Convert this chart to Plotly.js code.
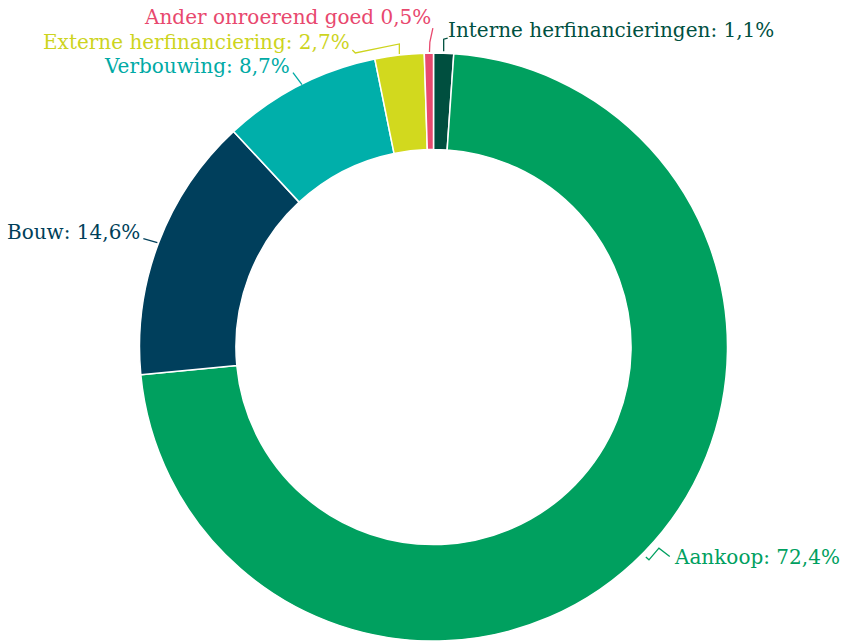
<!DOCTYPE html>
<html>
<head>
<meta charset="utf-8">
<script src="https://cdn.plot.ly/plotly-3.0.1.min.js"></script>
<style>html,body{margin:0;padding:0;background:#fff;}#chart{width:843px;height:641px;}</style>
</head>
<body>
<div id="chart"></div>
<script>
// Data (clockwise from 12 o'clock)
var categories = ["Interne herfinancieringen", "Aankoop", "Bouw", "Verbouwing", "Externe herfinanciering", "Ander onroerend goed"];
var values = [1.1, 72.4, 14.6, 8.7, 2.7, 0.5];
var labelTexts = ["Interne herfinancieringen: 1,1%", "Aankoop: 72,4%", "Bouw: 14,6%", "Verbouwing: 8,7%", "Externe herfinanciering: 2,7%", "Ander onroerend goed 0,5%"];
var sliceColors = ["#004f3f", "#00a05f", "#003f5c", "#00afaa", "#d2d91e", "#e84a6f"];
var textColors = ["#00503f", "#00a060", "#003f5a", "#00aaa5", "#cdd41e", "#e8486e"];

// Layout / style (pixels)
var W = 843, H = 641;
var cx = 433.5, cy = 347.5, R = 294.5;
var holeFrac = 0.672;
// leader-line offsets relative to slice's outer mid point, and text anchor offsets
var leaderOffsets = [
  [[0,-2],[0,-14],[4,-15]],
  [[1.5,4],[4.6,6.7],[14.6,-5],[25.4,3.4]],
  [[-1,0],[-15,-4]],
  [[3,-1],[-6,-13]],
  [[0,-1],[0,-11],[-44,-2],[-47,-5]],
  [[0.6,-1],[1,-11],[4,-25]]
];
var textOffsets = [[2,-23],[27.4,3.7],[-16,-11],[-7,-19.5],[-47,-13],[4.6,-36]];
var textAnchors = ["left","left","right","right","right","right"];

function px(x){return x/W;}
function py(y){return 1 - y/H;}

var total = values.reduce(function(a,b){return a+b;},0);
var shapes = [], annotations = [];
var cum = 0;
for (var i=0;i<values.length;i++){
  var mid = (cum + values[i]/2)/total*2*Math.PI;
  cum += values[i];
  var x0 = cx + R*Math.sin(mid), y0 = cy - R*Math.cos(mid);
  var pts = leaderOffsets[i].map(function(o){return [x0+o[0], y0+o[1]];});
  var path = pts.map(function(p,k){return (k?'L':'M')+px(p[0]).toFixed(5)+','+py(p[1]).toFixed(5);}).join(' ');
  shapes.push({type:'path', xref:'paper', yref:'paper', path:path, line:{color:textColors[i], width:1.3}});
  annotations.push({
    xref:'paper', yref:'paper', showarrow:false,
    x: px(x0+textOffsets[i][0]), y: py(y0+textOffsets[i][1]),
    xanchor: textAnchors[i], yanchor:'middle',
    text: labelTexts[i],
    font:{family:'DejaVu Serif', size:20, color:textColors[i]}
  });
}

var trace = {
  type:'pie',
  labels: categories,
  values: values,
  sort:false,
  direction:'clockwise',
  rotation:0,
  hole: holeFrac,
  textinfo:'none',
  hoverinfo:'label+percent',
  marker:{colors:sliceColors, line:{color:'#ffffff', width:1.5}},
  domain:{x:[(cx-R)/W, (cx+R)/W], y:[Math.max(0,1-(cy+R)/H), 1-(cy-R)/H]},
  showlegend:false
};

var layout = {
  width:W, height:H,
  margin:{l:0,r:0,t:0,b:0},
  paper_bgcolor:'#ffffff',
  showlegend:false,
  shapes:shapes,
  annotations:annotations
};
Plotly.newPlot('chart',[trace],layout,{displayModeBar:false, staticPlot:true});
</script>
</body>
</html>
